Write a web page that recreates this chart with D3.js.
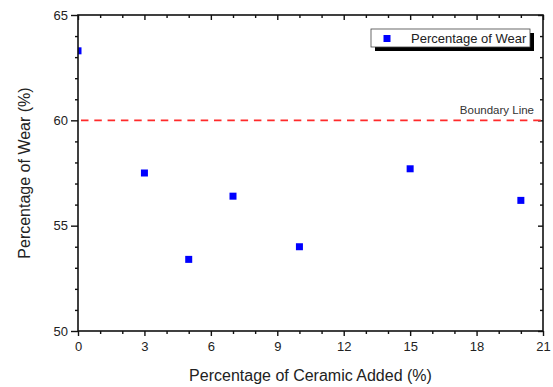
<!DOCTYPE html>
<html>
<head>
<meta charset="utf-8">
<script src="https://cdn.jsdelivr.net/npm/d3@7/dist/d3.min.js"></script>
<style>
  html, body { margin: 0; padding: 0; background: #fff; }
  svg { display: block; font-family: "Liberation Sans", Arial, sans-serif; }
</style>
</head>
<body>
<svg id="chart" width="553" height="387"></svg>
<script>
// Wear measured for each ceramic addition level
const ceramicAdded = [0, 3, 5, 7, 10, 15, 20];
const wearPercent = [63.3, 57.5, 53.4, 56.4, 54.0, 57.7, 56.2];
const xMajorTicks = [0, 3, 6, 9, 12, 15, 18, 21];
const yMajorTicks = [50, 55, 60, 65];
const boundaryValue = 60;
const seriesName = "Percentage of Wear";
const boundaryLabel = "Boundary Line";
const xTitle = "Percentage of Ceramic Added (%)";
const yTitle = "Percentage of Wear (%)";

const W = 553, H = 387;
const margin = { top: 15, right: 10, bottom: 56, left: 78 };
const iw = W - margin.left - margin.right;
const ih = H - margin.top - margin.bottom;
const textColor = "#222";

const svg = d3.select("#chart");
const g = svg.append("g").attr("transform", `translate(${margin.left},${margin.top})`);

const x = d3.scaleLinear().domain([0, 21]).range([0, iw]);
const y = d3.scaleLinear().domain([50, 65]).range([ih, 0]);

const xMinor = d3.range(0, 22).filter(v => !xMajorTicks.includes(v));
const yMinor = d3.range(50, 66).filter(v => !yMajorTicks.includes(v));

function styleAxis(sel) {
  sel.select(".domain").remove();
  sel.selectAll(".tick line").attr("stroke", "#111").attr("stroke-width", 1.4);
  sel.selectAll(".tick text")
    .attr("fill", textColor)
    .style("font-size", "13px")
    .style("font-family", "'Liberation Sans', Arial, sans-serif");
}

// Bottom axis: outward ticks with labels
g.append("g").attr("transform", `translate(0,${ih})`)
  .call(d3.axisBottom(x).tickValues(xMajorTicks).tickSize(5).tickPadding(6).tickFormat(d3.format("d")))
  .call(styleAxis);
g.append("g").attr("transform", `translate(0,${ih})`)
  .call(d3.axisBottom(x).tickValues(xMinor).tickSize(3).tickFormat(""))
  .call(styleAxis);

// Left axis: outward ticks with labels
g.append("g")
  .call(d3.axisLeft(y).tickValues(yMajorTicks).tickSize(7).tickPadding(3).tickFormat(d3.format("d")))
  .call(styleAxis);
g.append("g")
  .call(d3.axisLeft(y).tickValues(yMinor).tickSize(3).tickFormat(""))
  .call(styleAxis);

// Top and right axes: mirrored inward ticks, no labels
g.append("g")
  .call(d3.axisTop(x).tickValues(xMajorTicks).tickSize(-5).tickFormat(""))
  .call(styleAxis);
g.append("g")
  .call(d3.axisTop(x).tickValues(xMinor).tickSize(-3).tickFormat(""))
  .call(styleAxis);
g.append("g").attr("transform", `translate(${iw},0)`)
  .call(d3.axisRight(y).tickValues(yMajorTicks).tickSize(-5).tickFormat(""))
  .call(styleAxis);
g.append("g").attr("transform", `translate(${iw},0)`)
  .call(d3.axisRight(y).tickValues(yMinor).tickSize(-3).tickFormat(""))
  .call(styleAxis);

// Clip region for the plotted marks
svg.append("defs").append("clipPath").attr("id", "plot-clip")
  .append("rect").attr("x", 0).attr("y", 0).attr("width", iw).attr("height", ih);

const plot = g.append("g").attr("clip-path", "url(#plot-clip)");

// Boundary threshold
plot.append("line")
  .attr("x1", x(0)).attr("x2", x(21))
  .attr("y1", y(boundaryValue)).attr("y2", y(boundaryValue))
  .attr("stroke", "#ff2a2a").attr("stroke-width", 1.6)
  .attr("stroke-dasharray", "7.5,5.8")
  .attr("stroke-dashoffset", -3);

g.append("text")
  .attr("x", x(21) - 9).attr("y", y(boundaryValue) - 6)
  .attr("text-anchor", "end")
  .attr("fill", "#333")
  .style("font-size", "11.5px")
  .text(boundaryLabel);

// Data markers
const ms = 7;
plot.selectAll("rect.pt")
  .data(ceramicAdded.map((c, i) => ({ c, v: wearPercent[i] })))
  .join("rect")
  .attr("class", "pt")
  .attr("x", d => x(d.c) - ms / 2)
  .attr("y", d => y(d.v) - ms / 2)
  .attr("width", ms).attr("height", ms)
  .attr("fill", "#0000ff");

// Frame
g.append("rect")
  .attr("x", 0).attr("y", 0).attr("width", iw).attr("height", ih)
  .attr("fill", "none").attr("stroke", "#111").attr("stroke-width", 1.6);

// Legend with drop shadow
const lg = svg.append("g").attr("transform", "translate(371,29)");
lg.append("rect").attr("x", 4).attr("y", 4).attr("width", 159).attr("height", 18).attr("fill", "#000");
lg.append("rect").attr("x", 0).attr("y", 0).attr("width", 159).attr("height", 18)
  .attr("fill", "#fff").attr("stroke", "#444").attr("stroke-width", 0.8);
lg.append("rect").attr("x", 12.5).attr("y", 6).attr("width", ms).attr("height", ms).attr("fill", "#0000ff");
lg.append("text").attr("x", 40).attr("y", 13.5)
  .attr("fill", textColor).style("font-size", "13px").text(seriesName);

// Axis titles
svg.append("text")
  .attr("x", margin.left + iw / 2).attr("y", 381)
  .attr("text-anchor", "middle").attr("fill", textColor)
  .style("font-size", "16px").text(xTitle);

svg.append("text")
  .attr("transform", `translate(30,${margin.top + ih / 2}) rotate(-90)`)
  .attr("text-anchor", "middle").attr("fill", textColor)
  .style("font-size", "16px").text(yTitle);
</script>
</body>
</html>
